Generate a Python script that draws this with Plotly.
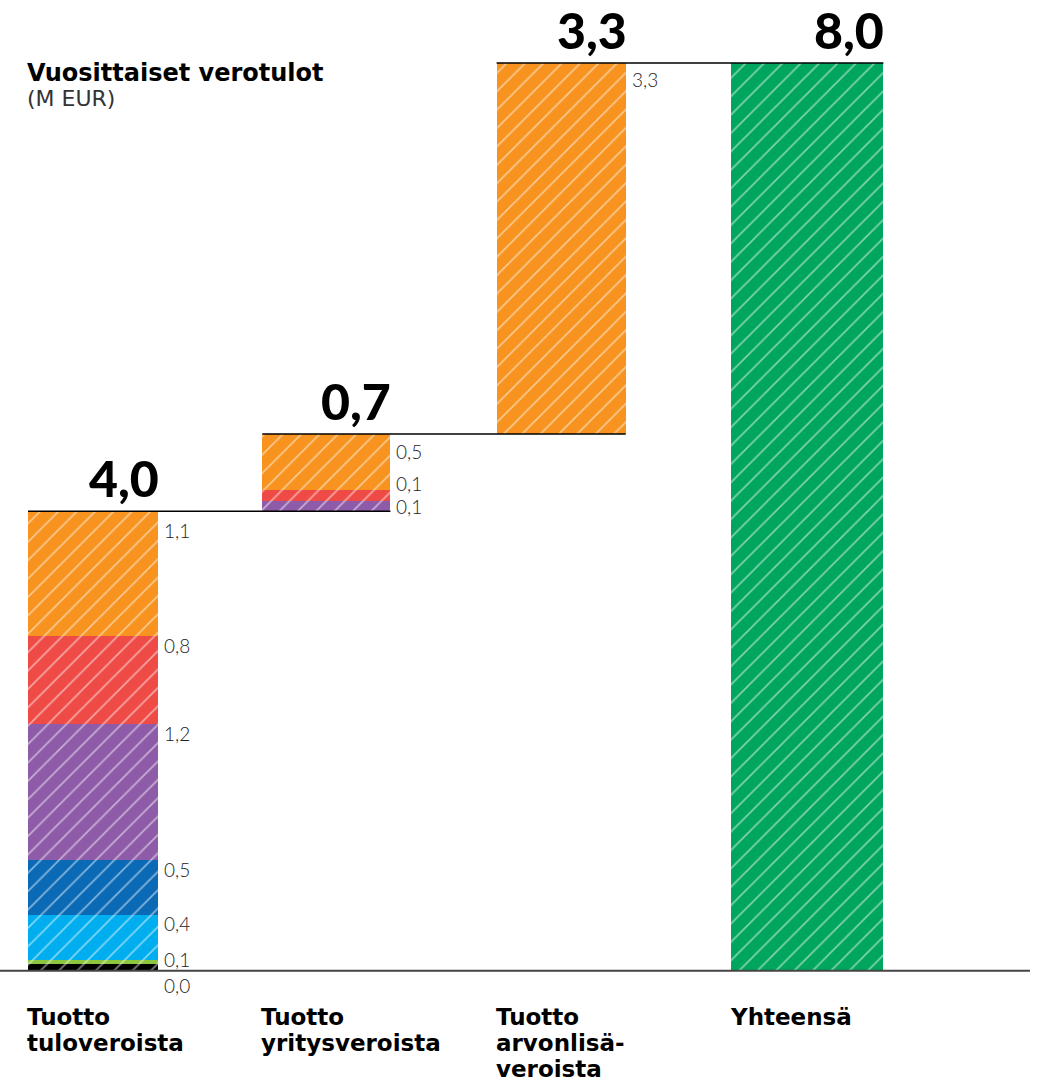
import plotly.graph_objects as go

# ---------------- data ----------------
categories = ["Tuotto\ntuloveroista", "Tuotto\nyritysveroista", "Tuotto\narvonlisä-\nveroista", "Yhteensä"]

# segments from bottom to top
income_values = [0.06, 0.03, 0.40, 0.49, 1.19, 0.78, 1.10]
income_labels = ["0,0", "0,1", "0,4", "0,5", "1,2", "0,8", "1,1"]
income_colors = ["#000000", "#8DC63F", "#00AEEF", "#0A6AB6", "#8E5BA8", "#EF4B46", "#F7931E"]

corporate_values = [0.09, 0.10, 0.49]
corporate_labels = ["0,1", "0,1", "0,5"]
corporate_colors = ["#8E5BA8", "#EF4B46", "#F7931E"]

vat_values = [3.27]
vat_labels = ["3,3"]
vat_colors = ["#F7931E"]

total_value = 8.00
total_color = "#00A65D"

bar_totals_text = ["4,0", "0,7", "3,3", "8,0"]

title_text = "Vuosittaiset verotulot"
subtitle_text = "(M EUR)"

# ---------------- styling ----------------
W, H = 1040, 1083
PX_PER_CAT = 234.3
LEFT_PX = 28
bar_widths = [0.553, 0.547, 0.551, 0.651]
PX_PER_UNIT = 113.46
BASE_PX = 970.7

# vertical pixel offsets of the value labels (centre below segment top)
income_label_dy = [21.5, -1, 8.5, 9.5, 9.5, 9.5, 19]
corporate_label_dy = [5.5, -6, 17.5]
vat_label_dy = [16.5]

HEAVY = "DejaVu Sans"

x_range = [-LEFT_PX / PX_PER_CAT, (W - LEFT_PX) / PX_PER_CAT]
y_range = [-(H - BASE_PX) / PX_PER_UNIT, BASE_PX / PX_PER_UNIT]

fig = go.Figure()
annotations = []
shapes = []

label_font = dict(family="Lato", size=19, color="#222222", weight=300)
hatch = dict(shape="/", fgcolor="white", fgopacity=0.5, size=13, solidity=0.13)


def add_stack(idx, start, values, colors, labels, dys):
    base = start
    for v, c, lab, dy in zip(values, colors, labels, dys):
        fig.add_trace(go.Bar(
            x=[idx], y=[v], base=[base], width=[bar_widths[idx]], offset=0,
            marker=dict(color=c, line=dict(width=0), pattern=hatch),
            hoverinfo="skip", showlegend=False,
        ))
        base += v
        annotations.append(dict(
            x=idx + bar_widths[idx], y=base, xref="x", yref="y",
            text=lab, showarrow=False, xanchor="left", yanchor="middle",
            xshift=5, yshift=-dy, font=label_font, borderpad=0,
        ))
    return base


top1 = add_stack(0, 0.0, income_values, income_colors, income_labels, income_label_dy)
top2 = add_stack(1, top1, corporate_values, corporate_colors, corporate_labels, corporate_label_dy)
top3 = add_stack(2, top2, vat_values, vat_colors, vat_labels, vat_label_dy)

fig.add_trace(go.Bar(
    x=[3], y=[total_value], base=[0], width=[bar_widths[3]], offset=0,
    marker=dict(color=total_color, line=dict(width=0), pattern=hatch),
    hoverinfo="skip", showlegend=False,
))

tops = [top1, top2, top3, total_value]

# connector lines
for i in range(3):
    shapes.append(dict(type="line", xref="x", yref="y",
                       x0=i, x1=i + 1 + bar_widths[i + 1], y0=tops[i], y1=tops[i],
                       line=dict(color="black", width=1.5), layer="above"))

# baseline
shapes.append(dict(type="line", xref="paper", yref="y", x0=0, x1=1030 / W, y0=0, y1=0,
                   line=dict(color="#444444", width=2), layer="above"))

# totals above bars
for i, t in enumerate(bar_totals_text):
    annotations.append(dict(
        x=i + bar_widths[i], y=tops[i], xref="x", yref="y", text=t,
        showarrow=False, xanchor="right", yanchor="bottom", xshift=3, yshift=1,
        font=dict(family="Lato", size=50, color="black", weight=900),
    ))

# category labels (one annotation per line for tight line spacing)
for i, c in enumerate(categories):
    for j, line in enumerate(c.split("\n")):
        annotations.append(dict(
            x=i, y=0, xref="x", yref="y", text=line, align="left",
            showarrow=False, xanchor="left", yanchor="top", xshift=-3, yshift=-31 - 26 * j,
            font=dict(family=HEAVY, size=23, color="black", weight="bold"),
        ))

# title
annotations.append(dict(
    x=LEFT_PX / W, y=1 - 57 / H, xref="paper", yref="paper", xanchor="left", yanchor="top",
    text=title_text, showarrow=False, xshift=-3,
    font=dict(family=HEAVY, size=24, color="black", weight="bold"),
))
annotations.append(dict(
    x=LEFT_PX / W, y=1 - 84 / H, xref="paper", yref="paper", xanchor="left", yanchor="top",
    text=subtitle_text, showarrow=False, xshift=-3,
    font=dict(family=HEAVY, size=22, color="#333333", weight="normal"),
))

fig.update_layout(
    width=W, height=H, autosize=False,
    margin=dict(l=0, r=0, t=0, b=0, pad=0),
    paper_bgcolor="white", plot_bgcolor="white",
    barmode="overlay", bargap=0,
    xaxis=dict(range=x_range, visible=False, fixedrange=True),
    yaxis=dict(range=y_range, visible=False, fixedrange=True),
    annotations=annotations, shapes=shapes,
)

fig.write_html("out.html", config={"displayModeBar": False},
               post_script="document.body.style.margin='0';document.body.style.overflow='hidden';")
